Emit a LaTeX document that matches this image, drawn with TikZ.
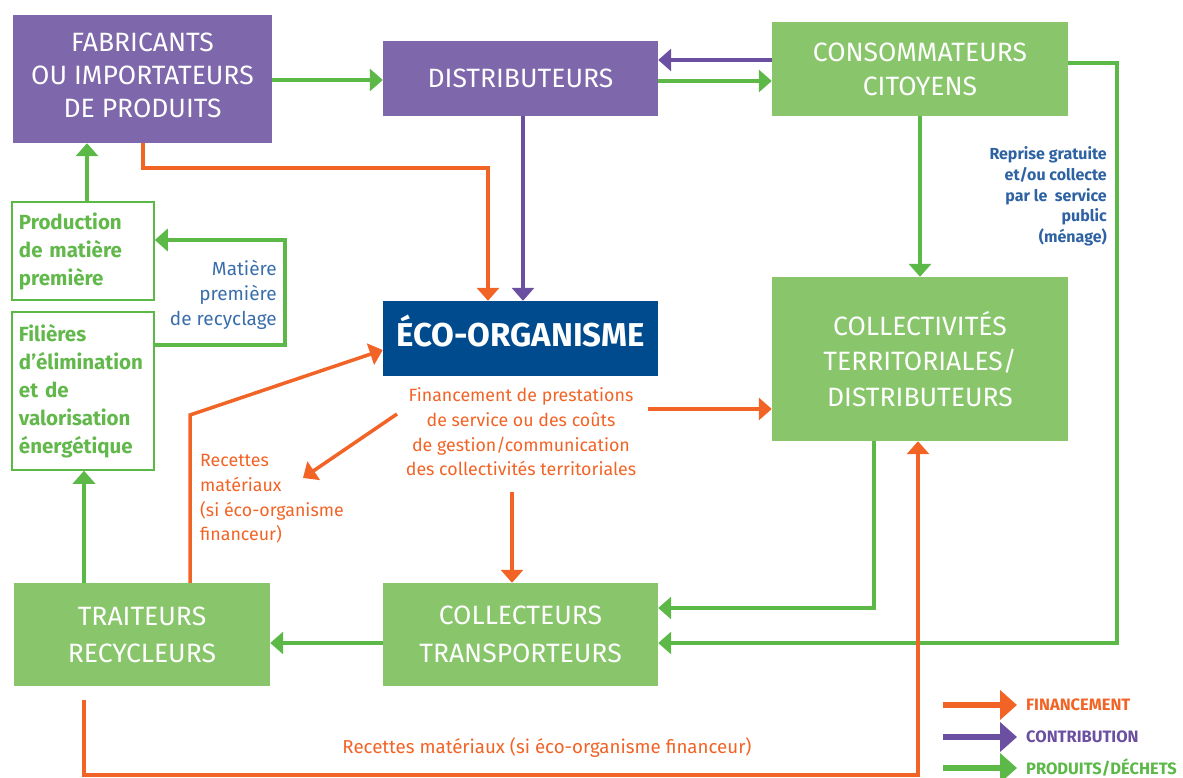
\documentclass[tikz,border=0pt]{standalone}
\usepackage{fontspec}
\setmainfont{Fira Sans}
\usetikzlibrary{arrows.meta}
\definecolor{boxpur}{HTML}{7E67AB}
\definecolor{linepur}{HTML}{6B4FA0}
\definecolor{boxblue}{HTML}{004B8D}
\definecolor{boxgrn}{HTML}{89C66B}
\definecolor{linegrn}{HTML}{5CB847}
\definecolor{txtgrn}{HTML}{62B84B}
\definecolor{org}{HTML}{F26326}
\definecolor{txtblue}{HTML}{3A6EAA}
\definecolor{txtblue2}{HTML}{2E62A2}
\tikzset{
  bigbox/.style={inner sep=0pt, align=center, text=white, font=\fontsize{26.5}{33}\selectfont},
  outbox/.style={draw=linegrn, line width=1.5pt, fill=white, inner sep=0pt, text=txtgrn, align=left,
     font=\bfseries\fontsize{20.5}{28}\selectfont, minimum width=142pt},
  conn/.style={line width=3.5pt, -{Triangle[length=13pt,width=22pt]}},
  grnl/.style={conn, color=linegrn},
  purl/.style={conn, color=linepur},
  orgl/.style={conn, color=org},
  orgtxt/.style={text=org, font=\fontsize{17.8}{24.6}\selectfont, inner sep=0pt},
  bluetxt/.style={text=txtblue, font=\fontsize{19}{25}\selectfont, inner sep=0pt, align=right},
  legarrow/.style={line width=6pt, -{Triangle[length=17pt,width=29pt]}},
  legtxt/.style={font=\bfseries\fontsize{16.5}{18}\selectfont, inner sep=0pt, anchor=west},
}
\begin{document}
\begin{tikzpicture}[x=1pt,y=-1pt]
\useasboundingbox (0,0) rectangle (1183,778);
% boxes
\node[bigbox, fill=boxpur, minimum width=259pt, minimum height=128pt] (fab) at (142.5,79) {};
\node[bigbox, fill=boxpur, minimum width=275pt, minimum height=75pt] (dist) at (520.5,78.5) {DISTRIBUTEURS};
\node[bigbox, fill=boxgrn, minimum width=296pt, minimum height=94pt, font=\fontsize{26.5}{34}\selectfont] (cons) at (920,69) {CONSOMMATEURS\\CITOYENS};
\node[outbox, minimum height=98pt, text width=128pt] (prod) at (83,251) {Production\\de matière\\première};
\node[outbox, minimum height=158pt, text width=128pt] (fil) at (83,391) {Filières\\d’élimination\\et de\\valorisation\\énergétique};
\node[bigbox, fill=boxblue, minimum width=275pt, minimum height=75pt, text height=22.7pt, text depth=6pt, font=\bfseries\fontsize{33}{38}\selectfont] (eco) at (520.5,338.5) {ÉCO-ORGANISME};
\node[bigbox, fill=boxgrn, minimum width=296pt, minimum height=164pt, font=\fontsize{26.5}{35.5}\selectfont] (coll) at (920,359) {COLLECTIVITÉS\\TERRITORIALES/\\DISTRIBUTEURS};
\node[bigbox, fill=boxgrn, minimum width=256pt, minimum height=103pt, font=\fontsize{26.5}{37}\selectfont] (trait) at (142,634.5) {TRAITEURS\\RECYCLEURS};
\node[bigbox, fill=boxgrn, minimum width=275pt, minimum height=103pt, font=\fontsize{26.5}{38}\selectfont] (collt) at (520.5,634.5) {COLLECTEURS\\TRANSPORTEURS};
\node[bigbox] (fabtxt) at (142.5,75.5) {FABRICANTS\\OU IMPORTATEURS\\DE PRODUITS};
% labels
\node[bluetxt, anchor=east] (matlab) at (277,295) {Matière\\première\\de recyclage};
\node[orgtxt, align=center] (finlab) at (521,432) {Financement de prestations\\de service ou des coûts\\de gestion/communication\\des collectivités territoriales};
\node[orgtxt, align=left, anchor=west] (reclab) at (200,499) {Recettes\\matériaux\\(si éco-organisme\\financeur)};
\node[bluetxt, text=txtblue2, font=\bfseries\fontsize{16}{20.7}\selectfont, anchor=east] (replab) at (1107,196.5) {Reprise gratuite\\et/ou collecte\\par le\ \ service\\public\\(ménage)};
\node[orgtxt, font=\fontsize{18.7}{24}\selectfont] (botlab) at (547,748) {Recettes matériaux (si éco-organisme financeur)};
% free ends
\coordinate (r1) at (397,414);
\coordinate (r2) at (303,478);
\coordinate (f1) at (648,409);
\coordinate (d1) at (512,492);
\coordinate (b1) at (84,700);
% green connectors
\draw[grnl] (fab.east |- 0,80) -- (dist.west |- 0,80);
\draw[grnl] (dist.east |- 0,81) -- (cons.west |- 0,81);
\draw[grnl] (prod.north -| 87,0) -- (fab.south -| 87,0);
\draw[grnl] (fil.east |- 0,345) -| (285,240) -- (prod.east |- 0,240);
\draw[grnl] (cons.south -| 920,0) -- (coll.north -| 920,0);
\draw[grnl] (cons.east |- 0,63) -| (1117,643) -- (collt.east |- 0,643);
\draw[grnl] (coll.south -| 874,0) |- (collt.east |- 0,608);
\draw[grnl] (collt.west |- 0,643) -- (trait.east |- 0,643);
\draw[grnl] (trait.north -| 84,0) -- (fil.south -| 84,0);
% purple connectors
\draw[purl] (cons.west |- 0,60) -- (dist.east |- 0,60);
\draw[purl] (dist.south -| 523,0) -- (eco.north -| 523,0);
% orange connectors
\draw[orgl] (fab.south -| 143,0) |- (488,168) -- (eco.north -| 488,0);
\draw[orgl] (trait.north -| 190,0) -- (190,415) -- (eco.west |- 0,350);
\draw[orgl] (r1) -- (r2);
\draw[orgl] (f1) -- (coll.west |- 0,409);
\draw[orgl] (d1) -- (collt.north -| 512,0);
\draw[orgl] (b1) |- (918,775) -- (coll.south -| 918,0);
% legend
\coordinate (l1) at (943,705);
\coordinate (l2) at (943,737);
\coordinate (l3) at (943,768);
\coordinate (l1e) at (1017,705);
\coordinate (l2e) at (1017,737);
\coordinate (l3e) at (1017,768);
\node[legtxt, text=org] (lg1) at (1026,705) {FINANCEMENT};
\node[legtxt, text=linepur] (lg2) at (1026,737) {CONTRIBUTION};
\node[legtxt, text=linegrn] (lg3) at (1026,768) {PRODUITS/DÉCHETS};
\draw[legarrow, color=org] (l1) -- (l1e);
\draw[legarrow, color=linepur] (l2) -- (l2e);
\draw[legarrow, color=linegrn] (l3) -- (l3e);
\end{tikzpicture}
\end{document}
